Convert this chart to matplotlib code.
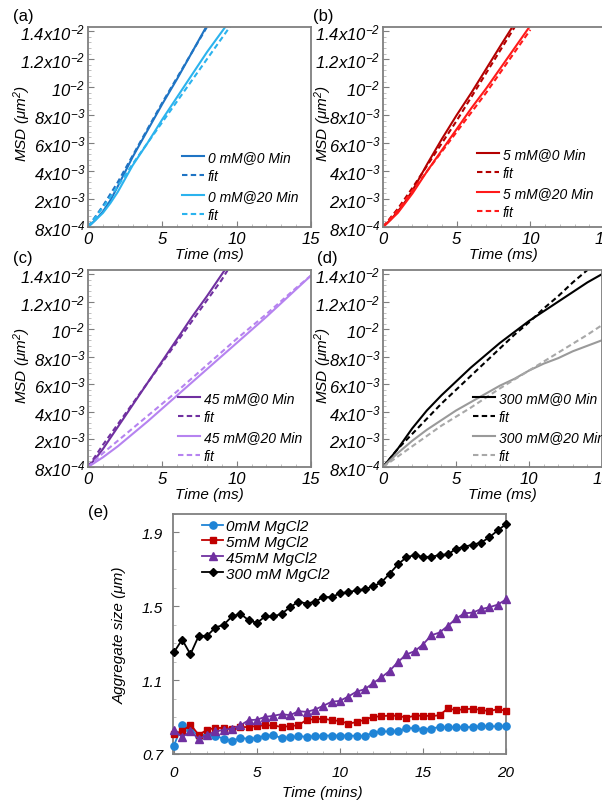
import matplotlib
matplotlib.use('Agg')
import matplotlib.pyplot as plt
from matplotlib.ticker import MultipleLocator, FixedLocator, FixedFormatter

plt.rcParams['font.family'] = ['Liberation Sans', 'DejaVu Sans']
plt.rcParams['font.style'] = 'italic'
plt.rcParams['mathtext.fontset'] = 'custom'
plt.rcParams['mathtext.rm'] = 'Liberation Sans:italic'
plt.rcParams['mathtext.it'] = 'Liberation Sans:italic'
plt.rcParams['mathtext.default'] = 'rm'

# ---------------- MSD data (time in ms, MSD on the plotted scale) ----------------
# (a) 0 mM
a0_t = [0, 0.5, 1, 1.5, 2, 3, 4, 5, 6, 7, 8, 8.3]
a0_y = [0, 0.0005, 0.0011, 0.0019, 0.0029, 0.0050, 0.0069, 0.0088, 0.0106, 0.0125, 0.0144, 0.0149]
a0f_t = [0, 1, 2, 3, 4, 5, 6, 7, 8, 8.3]
a0f_y = [0, 0.0015, 0.0032, 0.0051, 0.0070, 0.0089, 0.0107, 0.0125, 0.0143, 0.0149]
a20_t = [0, 0.5, 1, 1.5, 2, 3, 4, 5, 6, 7, 8, 9.3, 9.6]
a20_y = [0, 0.0005, 0.0010, 0.0017, 0.0025, 0.0044, 0.0060, 0.0077, 0.0093, 0.0109, 0.0125, 0.0144, 0.0149]
a20f_t = [0, 1, 2, 3, 4, 5, 6, 7, 8, 9, 9.6]
a20f_y = [0, 0.0014, 0.0029, 0.0045, 0.0060, 0.0075, 0.0090, 0.0105, 0.0120, 0.0135, 0.0144]

# (b) 5 mM
b0_t = [0, 0.5, 1, 1.5, 2, 3, 4, 5, 6, 7, 8, 8.9]
b0_y = [0, 0.0005, 0.0011, 0.0018, 0.0026, 0.0045, 0.0063, 0.0080, 0.0096, 0.0113, 0.0130, 0.0145]
b0f_t = [0, 1, 2, 3, 4, 5, 6, 7, 8, 9]
b0f_y = [0, 0.0013, 0.0028, 0.0044, 0.0060, 0.0076, 0.0093, 0.0110, 0.0127, 0.0144]
b20_t = [0, 0.5, 1, 1.5, 2, 3, 4, 5, 6, 7, 8, 9, 10]
b20_y = [0, 0.0005, 0.0010, 0.0017, 0.0024, 0.0040, 0.0055, 0.0070, 0.0085, 0.0099, 0.0114, 0.0129, 0.0144]
b20f_t = [0, 1, 2, 3, 4, 5, 6, 7, 8, 9, 10]
b20f_y = [0, 0.0012, 0.0026, 0.0040, 0.0054, 0.0068, 0.0082, 0.0096, 0.0111, 0.0126, 0.0141]

# (c) 45 mM
c0_t = [0, 0.5, 1, 2, 3, 4, 5, 6, 7, 8, 9.2]
c0_y = [0, 0.0006, 0.0013, 0.0029, 0.0045, 0.0061, 0.0077, 0.0093, 0.0109, 0.0124, 0.0143]
c0f_t = [0, 1, 2, 3, 4, 5, 6, 7, 8, 9, 9.4]
c0f_y = [0, 0.0016, 0.0031, 0.0046, 0.0061, 0.0076, 0.0091, 0.0106, 0.0121, 0.0136, 0.0143]
c20_t = [0, 1, 2, 3, 4, 6, 8, 10, 12, 14, 15]
c20_y = [0, 0.0007, 0.0015, 0.0024, 0.0033, 0.0052, 0.0071, 0.0090, 0.0109, 0.0129, 0.0139]
c20f_t = [0, 1, 2, 4, 6, 8, 10, 12, 14, 15]
c20f_y = [0, 0.0010, 0.0019, 0.0037, 0.0055, 0.0074, 0.0093, 0.0111, 0.0130, 0.0139]

# (d) 300 mM
d0_t = [0, 1, 2, 3, 4, 5, 6, 7, 8, 9, 10, 11, 12, 13, 14, 15]
d0_y = [0, 0.0013, 0.0028, 0.0041, 0.0052, 0.0062, 0.0072, 0.0081, 0.0090, 0.0098, 0.0106, 0.0113, 0.0120, 0.0127, 0.0134, 0.0140]
d0f_t = [0, 1, 2, 3, 4, 5, 6, 7, 8, 9, 10, 11, 12, 13, 14]
d0f_y = [0, 0.0013, 0.0024, 0.0035, 0.0046, 0.0056, 0.0066, 0.0076, 0.0086, 0.0096, 0.0105, 0.0115, 0.0124, 0.0134, 0.0143]
d20_t = [0, 1, 2, 3, 4, 5, 6, 7, 8, 9, 10, 11, 12, 13, 14, 15]
d20_y = [0, 0.0010, 0.0019, 0.0027, 0.0034, 0.0041, 0.0047, 0.0053, 0.0059, 0.0064, 0.0070, 0.0075, 0.0079, 0.0084, 0.0088, 0.0092]
d20f_t = [0, 2, 4, 6, 8, 10, 12, 14, 15]
d20f_y = [0, 0.0015, 0.0030, 0.0043, 0.0057, 0.0070, 0.0083, 0.0096, 0.0103]

msd_ticks = [0, 0.002, 0.004, 0.006, 0.008, 0.010, 0.012, 0.014]
msd_ticklabels = ['8x10$^{-4}$', '2x10$^{-3}$', '4x10$^{-3}$', '6x10$^{-3}$',
                  '8x10$^{-3}$', '10$^{-2}$', '1.2x10$^{-2}$', '1.4x10$^{-2}$']

# ---------------- Aggregate size data ----------------
agg_time = [i * 0.5 for i in range(41)]
agg_0mM = [0.745, 0.855, 0.830, 0.800, 0.805, 0.800, 0.782, 0.772, 0.786, 0.783,
           0.787, 0.800, 0.802, 0.786, 0.791, 0.797, 0.793, 0.797, 0.800, 0.800,
           0.800, 0.800, 0.798, 0.798, 0.815, 0.822, 0.822, 0.822, 0.840, 0.840,
           0.832, 0.838, 0.846, 0.845, 0.845, 0.845, 0.847, 0.851, 0.851, 0.849, 0.850]
agg_5mM = [0.810, 0.822, 0.859, 0.804, 0.831, 0.841, 0.841, 0.837, 0.846, 0.846,
           0.852, 0.855, 0.855, 0.846, 0.852, 0.855, 0.886, 0.888, 0.892, 0.883,
           0.879, 0.864, 0.873, 0.886, 0.901, 0.905, 0.908, 0.907, 0.897, 0.907,
           0.908, 0.905, 0.910, 0.947, 0.937, 0.943, 0.945, 0.939, 0.932, 0.943, 0.934]
agg_45mM = [0.831, 0.791, 0.822, 0.782, 0.804, 0.822, 0.831, 0.837, 0.855, 0.883,
            0.886, 0.901, 0.907, 0.916, 0.910, 0.932, 0.928, 0.941, 0.961, 0.983,
            0.988, 1.011, 1.038, 1.051, 1.084, 1.115, 1.151, 1.199, 1.239, 1.257,
            1.293, 1.343, 1.358, 1.394, 1.434, 1.462, 1.466, 1.485, 1.495, 1.509, 1.537]
agg_300mM = [1.250, 1.320, 1.240, 1.340, 1.340, 1.385, 1.400, 1.445, 1.460, 1.425,
             1.410, 1.445, 1.445, 1.460, 1.495, 1.525, 1.515, 1.525, 1.550, 1.550,
             1.570, 1.577, 1.586, 1.593, 1.608, 1.630, 1.677, 1.728, 1.765, 1.778,
             1.768, 1.768, 1.778, 1.781, 1.812, 1.823, 1.834, 1.845, 1.874, 1.911, 1.945]

W, H = 602, 803
fig = plt.figure(figsize=(W / 100, H / 100), dpi=100)

SPINE = '#7f7f7f'


def px_axes(l, t, r, b):
    return fig.add_axes([l / W, 1 - b / H, (r - l) / W, (b - t) / H])


def style_axes(ax):
    for s in ax.spines.values():
        s.set_color(SPINE)
        s.set_linewidth(1.3)
    ax.tick_params(which='both', direction='in', color=SPINE)
    ax.tick_params(which='major', length=4, width=0.8)
    ax.tick_params(which='minor', length=2.5, width=0.6, color='#b5b5b5')


msd_panels = [
    ('(a)', (88, 28, 311, 228), (13, 17), 33,
     [(a0_t, a0_y, '#1f74c4', '-', '0 mM@0 Min'), (a0f_t, a0f_y, '#1f74c4', '--', 'fit'),
      (a20_t, a20_y, '#2bb3ee', '-', '0 mM@20 Min'), (a20f_t, a20f_y, '#2bb3ee', '--', 'fit')],
     (182, 151)),
    ('(b)', (383, 28, 604, 228), (313, 17), 334,
     [(b0_t, b0_y, '#b40000', '-', '5 mM@0 Min'), (b0f_t, b0f_y, '#b40000', '--', 'fit'),
      (b20_t, b20_y, '#ff1a1a', '-', '5 mM@20 Min'), (b20f_t, b20f_y, '#ff1a1a', '--', 'fit')],
     (477, 148)),
    ('(c)', (88, 271, 311, 468), (13, 259), 33,
     [(c0_t, c0_y, '#7030a0', '-', '45 mM@0 Min'), (c0f_t, c0f_y, '#7030a0', '--', 'fit'),
      (c20_t, c20_y, '#b683f0', '-', '45 mM@20 Min'), (c20f_t, c20f_y, '#b683f0', '--', 'fit')],
     (178, 392)),
    ('(d)', (383, 271, 602, 468), (317, 259), 334,
     [(d0_t, d0_y, '#000000', '-', '300 mM@0 Min'), (d0f_t, d0f_y, '#000000', '--', 'fit'),
      (d20_t, d20_y, '#9a9a9a', '-', '300 mM@20 Min'), (d20f_t, d20f_y, '#a8a8a8', '--', 'fit')],
     (473, 392)),
]

for letter, (l, t, r, b), (lx, ly), ylab_x, curves, (legx, legy) in msd_panels:
    ax = px_axes(l, t, r, b)
    style_axes(ax)
    for xs, ys, col, ls, lab in curves:
        if ls == '--':
            ax.plot(xs, ys, color=col, lw=1.5, ls=(0, (2.6, 1.6)), label=lab)
        else:
            ax.plot(xs, ys, color=col, lw=1.5, ls='-', label=lab)
    ax.set_xlim(0, 15)
    ax.set_ylim(0, 0.0143)
    ax.xaxis.set_major_locator(FixedLocator([0, 5, 10, 15]))
    ax.xaxis.set_minor_locator(MultipleLocator(1))
    ax.yaxis.set_major_locator(FixedLocator(msd_ticks))
    ax.yaxis.set_major_formatter(FixedFormatter(msd_ticklabels))
    ax.yaxis.set_minor_locator(MultipleLocator(0.0004))
    ax.tick_params(axis='both', which='major', labelsize=12, pad=2)
    ax.tick_params(axis='x', which='major', pad=3)
    ax.set_ylabel('MSD (μm$^2$)', fontsize=11)
    ax.yaxis.set_label_coords((ylab_x - l) / (r - l), 0.52)
    ax.set_xlabel('Time (ms)', fontsize=11, va='center')
    ax.xaxis.set_label_coords((l + (r - l) / 2 + 10 - l) / (r - l), -27 / (b - t))
    leg = ax.legend(loc='upper left', bbox_to_anchor=(legx / W, 1 - legy / H),
                    bbox_transform=fig.transFigure, frameon=False, fontsize=10,
                    borderpad=0, borderaxespad=0, handlelength=1.55,
                    handletextpad=0.3, labelspacing=0.38)
    fig.text(lx / W, 1 - ly / H, letter, fontsize=12, style='normal', va='center', ha='left')

# ---------------- (e) aggregate size ----------------
l, t, r, b = 173, 515, 506, 755
axe = px_axes(l, t, r, b)
style_axes(axe)
series = [
    (agg_0mM, '#1f84d6', 'o', 5.2, '0mM MgCl2'),
    (agg_5mM, '#c00000', 's', 4.8, '5mM MgCl2'),
    (agg_45mM, '#7030a0', '^', 5.8, '45mM MgCl2'),
    (agg_300mM, '#000000', 'D', 4.4, '300 mM MgCl2'),
]
for ys, col, mk, ms, lab in series:
    axe.plot(agg_time, ys, color=col, lw=1.3, marker=mk, ms=ms, mec=col, mfc=col,
             label=lab, clip_on=False, zorder=3)
axe.set_xlim(-0.05, 20)
axe.set_ylim(0.7, 2.0)
axe.xaxis.set_major_locator(FixedLocator([0, 5, 10, 15, 20]))
axe.xaxis.set_minor_locator(MultipleLocator(1))
axe.yaxis.set_major_locator(FixedLocator([0.7, 1.1, 1.5, 1.9]))
axe.yaxis.set_major_formatter(FixedFormatter(['0.7', '1.1', '1.5', '1.9']))
axe.yaxis.set_minor_locator(MultipleLocator(0.1))
axe.tick_params(axis='x', which='major', labelsize=11, pad=8)
axe.tick_params(axis='y', which='major', labelsize=11, pad=7)
axe.set_ylabel('Aggregate size (μm)', fontsize=11)
axe.yaxis.set_label_coords((127 - l) / (r - l), 0.5)
axe.set_xlabel('Time (mins)', fontsize=11, va='center')
axe.xaxis.set_label_coords((322 - l) / (r - l), -(793 - b) / (b - t))
axe.legend(loc='upper left', bbox_to_anchor=(202 / W, 1 - 520 / H),
           bbox_transform=fig.transFigure, frameon=False, fontsize=11,
           borderpad=0, borderaxespad=0, handlelength=1.4, handletextpad=0.15,
           labelspacing=0.12, numpoints=1)
fig.text(88 / W, 1 - 513 / H, '(e)', fontsize=12, style='normal', va='center', ha='left')

fig.savefig('out.png', dpi=100)
